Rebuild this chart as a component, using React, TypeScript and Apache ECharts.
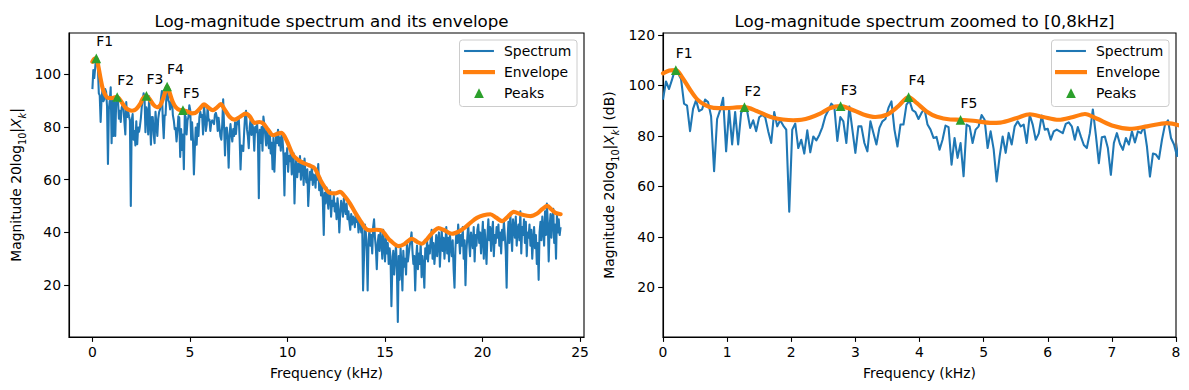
import React, { useEffect, useRef } from "react";
import * as echarts from "echarts";

// ---------------- data ----------------
const sampleRateKHz = 48;
const nfft = 1024;

// log-magnitude spectrum (dB), one value per FFT bin k = 0..512
const spectrumDb = [
  94.4, 101.6, 98.6, 102.3, 106.3, 104.8, 102.6, 92.8, 92.0, 81.9,
  90.7, 94.2, 89.8, 90.5, 94.4, 93.4, 87.8, 66.0, 86.7, 90.2,
  95.1, 73.9, 90.5, 76.6, 89.5, 76.6, 89.2, 90.7, 89.8, 83.2,
  86.2, 81.9, 87.4, 88.3, 87.4, 81.9, 77.2, 89.5, 83.8, 86.2,
  84.1, 82.5, 50.0, 82.5, 84.9, 75.2, 78.5, 73.0, 82.2, 73.5,
  79.8, 78.2, 80.4, 83.4, 87.8, 90.2, 92.8, 91.5, 78.0, 87.5,
  85.8, 77.2, 91.7, 82.5, 73.3, 83.8, 83.8, 77.2, 73.9, 85.8,
  81.2, 76.6, 83.2, 85.8, 86.7, 91.1, 93.7, 82.5, 75.8, 84.5,
  84.5, 92.4, 94.0, 90.2, 89.4, 86.7, 89.1, 90.7, 84.5, 82.5,
  79.2, 79.6, 74.5, 78.5, 84.1, 83.5, 68.6, 79.2, 71.3, 77.2,
  64.0, 84.5, 83.8, 77.2, 82.5, 83.8, 88.3, 86.4, 75.2, 81.8,
  74.8, 62.0, 71.9, 79.8, 73.3, 81.2, 76.6, 83.8, 85.8, 83.8,
  84.5, 77.2, 88.3, 84.5, 78.5, 80.9, 88.1, 82.5, 82.8, 78.5,
  81.8, 82.5, 81.8, 81.1, 84.8, 85.4, 83.8, 78.5, 83.5, 79.8,
  76.4, 75.2, 81.1, 90.5, 80.4, 69.2, 79.5, 79.8, 75.2, 64.6,
  77.2, 81.1, 76.9, 74.5, 79.2, 76.6, 81.8, 77.4, 81.8, 81.1,
  83.8, 75.8, 63.9, 73.0, 72.6, 70.9, 78.5, 84.5, 86.2, 79.2,
  76.6, 72.0,
  80, 83, 77, 81, 79, 71, 80, 78, 82, 76,
  53,
  79, 74, 80, 71, 84, 81, 77, 73, 79, 75,
  72, 78, 70, 74, 64, 76, 63, 72, 77, 74,
  79, 73, 76, 71, 78, 75, 69, 54, 70, 66,
  72, 63, 69, 67, 71, 62, 66, 70, 51, 64,
  68, 61, 66, 63, 69, 60, 65, 67, 58, 68,
  62, 59, 64, 50, 57, 63, 60, 65, 58, 62,
  61, 57, 64, 60, 66, 56, 61, 54, 59, 52,
  39, 55, 51, 57, 53, 49, 55, 56, 46, 52,
  50, 54, 48, 51, 45, 53, 49, 40, 47, 52,
  50, 46, 53, 49, 47, 51, 45, 48, 44, 41,
  47, 43, 46, 45, 42, 47, 44, 46, 40, 44,
  43, 40, 44, 18, 30, 43, 40, 33, 18, 37,
  41, 35, 39, 32, 42, 45, 38, 34, 26, 36,
  39, 33, 40, 37, 30, 41, 35, 29, 38, 32,
  36, 28, 34, 31, 12, 27, 33, 24, 30, 35,
  26, 6, 31, 22, 34, 28, 18, 33, 27, 30,
  24, 36, 29, 32, 35, 37, 40, 33, 28, 31,
  18, 30, 35, 26, 32, 28, 36, 23, 31, 27,
  19, 34, 30, 37, 29, 35, 32, 38, 41, 30,
  36, 28, 33, 39, 31, 37, 40, 27, 35, 41,
  33, 38, 30, 36, 42, 32, 38, 29, 39, 35,
  31, 37, 26, 19, 34, 40, 36, 43, 38, 32,
  39, 35, 42, 30, 37, 20, 33, 38, 43, 36,
  31, 40, 37, 34, 42, 29, 39, 35, 41, 43,
  36, 40, 32, 38, 44, 30, 41, 35, 28, 39,
  45, 37, 42, 33, 40, 44, 31, 39, 36, 42,
  38, 43, 35, 40, 32, 41, 37, 44, 39, 33,
  19, 38, 44, 36, 47, 40, 33, 45, 42, 38,
  46, 35, 41, 43, 37, 48, 32, 42, 39, 45,
  36, 44, 31, 40, 38, 43, 35, 41, 30, 37,
  42, 34, 39, 28, 36, 22, 40, 44, 37, 46,
  41, 35, 48, 39, 51, 44, 29, 42, 47, 38,
  45, 49, 36, 43, 30, 47, 40, 45, 39, 42,
];

// smooth spectral envelope (kHz, dB)
const envelopeKHz = [
  0.0, 0.1, 0.2, 0.3, 0.42, 0.53, 0.66, 0.79, 0.99, 1.15,
  1.27, 1.46, 1.6, 1.72, 1.87, 2.03, 2.16, 2.29, 2.45, 2.6,
  2.77, 2.92, 3.125, 3.31, 3.49, 3.67, 3.83, 3.96, 4.11, 4.27,
  4.48, 4.64, 4.84, 5.1, 5.26, 5.52, 5.72, 5.93, 6.17, 6.38,
  6.58, 6.77, 7.03, 7.28, 7.55, 7.86, 8.06, 8.32, 8.55, 8.75,
  9.0, 9.26, 9.5, 9.69, 9.95, 10.29, 10.55, 10.8, 11.1, 11.4,
  11.74, 12.17, 12.45, 12.69, 12.95, 13.2, 13.45, 13.72, 14.0, 14.23,
  14.55, 14.83, 15.05, 15.26, 15.69, 16.0, 16.37, 16.65, 16.89, 17.1,
  17.31, 17.55, 17.74, 18.0, 18.43, 18.8, 19.12, 19.4, 19.71, 20.05,
  20.4, 20.7, 21.0, 21.3, 21.6, 22.0, 22.46, 22.8, 23.05, 23.31,
  23.55, 23.74, 24.0,
];
const envelopeDb = [
  104.8, 105.9, 106.1, 103.2, 98.4, 94.6, 92.2, 91.1, 91.0, 91.3,
  91.4, 89.9, 88.3, 87.2, 86.5, 86.2, 86.4, 87.2, 88.8, 91.0,
  91.8, 90.7, 88.5, 87.5, 88.4, 91.8, 95.4, 93.0, 89.7, 87.6,
  86.5, 86.4, 86.0, 85.2, 85.3, 87.1, 88.6, 87.5, 86.4, 87.4,
  88.7, 86.8, 83.9, 82.8, 83.8, 85.1, 84.1, 81.6, 81.9, 81.4,
  79.0, 76.9, 77.5, 77.8, 75.0, 69.3, 67.5, 66.4, 65.5, 64.3,
  59.2, 55.0, 54.8, 55.4, 53.6, 51.0, 47.8, 44.6, 41.5, 40.8,
  41.0, 40.8, 38.8, 37.0, 34.8, 35.6, 37.6, 36.4, 35.7, 37.0,
  38.9, 40.8, 41.6, 41.0, 39.5, 40.4, 42.0, 43.8, 45.5, 46.5,
  46.9, 45.6, 44.3, 46.0, 47.8, 46.8, 46.2, 47.2, 48.8, 50.1,
  48.6, 47.4, 46.9,
];

// formant peaks
const peakNames = ["F1", "F2", "F3", "F4", "F5"];
const peakKHz = [0.2, 1.27, 2.77, 3.83, 4.64];
const peakDb = [106.1, 91.4, 91.8, 95.4, 86.4];

// axes
const leftXTicks = [0, 5, 10, 15, 20, 25];
const leftYTicks = [20, 40, 60, 80, 100];
const rightYTicks = [20, 40, 60, 80, 100, 120];
const legendNames = ["Spectrum", "Envelope", "Peaks"];
const titles = [
  "Log-magnitude spectrum and its envelope",
  "Log-magnitude spectrum zoomed to [0,8kHz]",
];

// ---------------- style / layout ----------------
const FONT = "DejaVu Sans";
const FS = 13.9;
const C_SPEC = "#1f77b4";
const C_ENV = "#ff7f0e";
const C_PEAK = "#2ca02c";
const GRID_TOP = 33;
const GRID_H = 304;
const grids = [
  { left: 69, width: 515, xMin: -1.2, xMax: 25.2, yMin: 0.3, yMax: 115.7 },
  { left: 663, width: 513, xMin: 0, xMax: 8, yMin: 0.3, yMax: 120.8 },
];
const MARKER = 9.7;

export default function App() {
  const ref = useRef<HTMLDivElement>(null);

  useEffect(() => {
    if (!ref.current) return;
    const chart = echarts.init(ref.current, null, { renderer: "svg" });

    const binKHz = sampleRateKHz / nfft;
    const spectrumData = spectrumDb.map((v, k) => [k * binKHz, v]);
    const envelopeData = envelopeKHz.map((f, i) => [f, envelopeDb[i]]);
    const peakData = peakKHz.map((f, i) => [f, peakDb[i]]);

    const tickLabel = { color: "#000", fontSize: FS, fontFamily: FONT };
    const yName = (suffix: string) =>
      "Magnitude 20log{s|10}|{i|X}{si|k}|" + suffix;
    const nameStyle = {
      color: "#000",
      fontSize: FS,
      fontFamily: FONT,
      rich: {
        s: { fontSize: 9.7, fontFamily: FONT, color: "#000", verticalAlign: "bottom", lineHeight: 22 },
        i: { fontSize: FS, fontFamily: FONT, color: "#000", fontStyle: "italic" },
        si: { fontSize: 9.7, fontFamily: FONT, color: "#000", fontStyle: "italic", verticalAlign: "bottom", lineHeight: 22 },
      },
    };

    const xAxes = grids.map((g, gi) => ({
      type: "value",
      gridIndex: gi,
      min: g.xMin,
      max: g.xMax,
      interval: gi === 1 ? 1 : undefined,
      splitLine: { show: false },
      axisLine: { show: true, onZero: false, lineStyle: { color: "#000", width: 1.1 } },
      axisTick: {
        show: true,
        length: 4.9,
        lineStyle: { color: "#000", width: 1.1 },
        ...(gi === 0 ? { customValues: leftXTicks } : {}),
      },
      axisLabel: {
        ...tickLabel,
        margin: 8,
        ...(gi === 0 ? { customValues: leftXTicks } : {}),
      },
      name: "Frequency (kHz)",
      nameLocation: "middle",
      nameGap: 29,
      nameTextStyle: { color: "#000", fontSize: FS, fontFamily: FONT },
    }));

    const yAxes = grids.map((g, gi) => ({
      type: "value",
      gridIndex: gi,
      min: g.yMin,
      max: g.yMax,
      splitLine: { show: false },
      axisLine: { show: true, onZero: false, lineStyle: { color: "#000", width: 1.1 } },
      axisTick: {
        show: true,
        length: 4.9,
        lineStyle: { color: "#000", width: 1.1 },
        customValues: gi === 0 ? leftYTicks : rightYTicks,
      },
      axisLabel: {
        ...tickLabel,
        margin: 8,
        customValues: gi === 0 ? leftYTicks : rightYTicks,
      },
      name: yName(gi === 0 ? "" : " (dB)"),
      nameLocation: "middle",
      nameGap: gi === 0 ? 42 : 43,
      nameTextStyle: nameStyle,
    }));

    const series: any[] = [];
    grids.forEach((g, gi) => {
      const pxPerDb = GRID_H / (g.yMax - g.yMin);
      series.push({
        name: "Spectrum",
        type: "line",
        xAxisIndex: gi,
        yAxisIndex: gi,
        data: spectrumData,
        showSymbol: false,
        symbol: "none",
        silent: true,
        lineStyle: { color: C_SPEC, width: 2.08, join: "round" },
        z: 2,
      });
      series.push({
        name: "Envelope",
        type: "line",
        xAxisIndex: gi,
        yAxisIndex: gi,
        data: envelopeData,
        showSymbol: false,
        symbol: "none",
        smooth: 0.3,
        silent: true,
        lineStyle: { color: C_ENV, width: 4.17, join: "round", cap: "round" },
        z: 3,
      });
      series.push({
        name: "Peaks",
        type: "scatter",
        xAxisIndex: gi,
        yAxisIndex: gi,
        data: peakData,
        symbol: "triangle",
        symbolSize: MARKER,
        silent: true,
        itemStyle: { color: C_PEAK, opacity: 1 },
        label: {
          show: true,
          formatter: (p: any) => peakNames[p.dataIndex],
          position: "top",
          distance: 0,
          align: "left",
          verticalAlign: "middle",
          offset: [0, -5 * pxPerDb - 4 + MARKER / 2],
          color: "#000",
          fontSize: FS,
          fontFamily: FONT,
        },
        z: 4,
      });
    });

    // legends (matplotlib style boxes), one per panel
    const graphic: any[] = [];
    const boxW = 117.5;
    const boxH = 66.5;
    grids.forEach((g) => {
      const right = g.left + g.width;
      const bx = right - 7 - boxW;
      const by = GRID_TOP + 7;
      const hx0 = bx + 5.6;
      const hx1 = hx0 + 27.8;
      const tx = hx1 + 11.1;
      const rows = [by + 11, by + 32.1, by + 53.2];
      graphic.push({
        type: "rect",
        z: 100,
        shape: { x: bx, y: by, width: boxW, height: boxH, r: 3 },
        style: { fill: "rgba(255,255,255,0.8)", stroke: "#cccccc", lineWidth: 1 },
      });
      graphic.push({
        type: "line",
        z: 101,
        shape: { x1: hx0, y1: rows[0], x2: hx1, y2: rows[0] },
        style: { stroke: C_SPEC, lineWidth: 2.08, lineCap: "square" },
      });
      graphic.push({
        type: "line",
        z: 101,
        shape: { x1: hx0, y1: rows[1], x2: hx1, y2: rows[1] },
        style: { stroke: C_ENV, lineWidth: 4.17, lineCap: "square" },
      });
      const cx = (hx0 + hx1) / 2;
      const h = MARKER / 2;
      graphic.push({
        type: "polygon",
        z: 101,
        shape: { points: [[cx, rows[2] - h], [cx - h, rows[2] + h], [cx + h, rows[2] + h]] },
        style: { fill: C_PEAK },
      });
      legendNames.forEach((n, i) => {
        graphic.push({
          type: "text",
          z: 101,
          x: tx,
          y: rows[i],
          style: {
            text: n,
            fill: "#000",
            fontSize: FS,
            fontFamily: FONT,
            align: "left",
            verticalAlign: "middle",
          },
        });
      });
    });

    chart.setOption({
      animation: false,
      backgroundColor: "#ffffff",
      title: titles.map((t, i) => ({
        text: t,
        left: grids[i].left + grids[i].width / 2,
        top: 7,
        textAlign: "center",
        textStyle: { color: "#000", fontSize: 16.7, fontWeight: "normal", fontFamily: FONT },
      })),
      grid: grids.map((g) => ({
        left: g.left,
        top: GRID_TOP,
        width: g.width,
        height: GRID_H,
        show: true,
        borderColor: "#000",
        borderWidth: 1.1,
        backgroundColor: "transparent",
        containLabel: false,
        outerBoundsMode: "none",
      })),
      xAxis: xAxes,
      yAxis: yAxes,
      series,
      graphic,
    } as any);

    return () => chart.dispose();
  }, []);

  return (
    <div
      ref={ref}
      style={{ position: "fixed", left: 0, top: 0, width: 1189, height: 390, background: "#fff" }}
    />
  );
}
